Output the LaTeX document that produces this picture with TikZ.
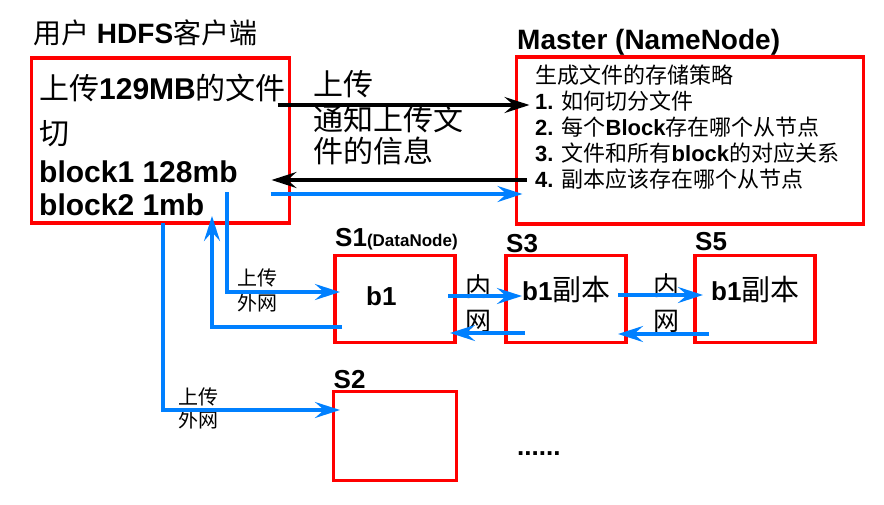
\documentclass[tikz,border=0pt]{standalone}
\usepackage{fontspec}
\setmainfont{Liberation Sans}
\newfontfamily\zh{Noto Sans CJK SC}
\usetikzlibrary{arrows.meta}
\definecolor{netblue}{RGB}{0,128,255}

\begin{document}
\begin{tikzpicture}[x=1pt,y=-1pt]
      \tikzset{
        box/.style={draw=red, line width=3.2pt, rectangle, inner sep=0pt, outer sep=0pt},
        srv/.style={box, minimum width=120pt, minimum height=87pt},
        txt/.style={anchor=base west, inner sep=0pt, font=\fontsize{30}{32}\selectfont},
        lst/.style={anchor=base west, inner sep=0pt, font=\fontsize{22}{24}\selectfont},
        lbl/.style={anchor=base west, inner sep=0pt, font=\bfseries\fontsize{26}{26}\selectfont},
        net/.style={anchor=base west, inner sep=0pt, font=\zh\fontsize{20}{24}\selectfont},
        link/.style={draw=black, line width=3.3pt, -{Stealth[length=25pt,width=16pt,inset=9pt]}},
        blink/.style={link, draw=netblue},
      }
      \useasboundingbox (0,0) rectangle (884,504);
      \node [box, minimum width=258pt, minimum height=165pt] (client) at (160.5,140.5) {};
      \node [box, minimum width=347pt, minimum height=167pt, right of=client, node distance=529.5pt] (master) {};
      \node [srv] (s1) at (395,299) {};
      \node [srv, right of=s1, node distance=171pt] (s3) {};
      \node [srv, right of=s3, node distance=189pt] (s5) {};
      \node [srv, minimum width=123pt, minimum height=89pt, below of=s1, node distance=137pt] (s2) {};

      \node [txt, font=\fontsize{28}{30}\selectfont] (ctitle) at (33,43) {{\zh 用户} \textbf{HDFS}{\zh 客户端}};
      \node [txt] (upl) at (39,99) {{\zh 上传}\textbf{129MB}{\zh 的文件}};
      \node [txt] (cut) at (39,144) {\zh 切};
      \node [txt] (blk1) at (39,182) {\textbf{block1 128mb}};
      \node [txt] (blk2) at (39,215) {\textbf{block2 1mb}};

      \node [txt] (upload) at (313,95) {\zh 上传};
      \node [txt] (info1) at (313,130) {\zh 通知上传文};
      \node [txt] (info2) at (313,162) {\zh 件的信息};

      \node [txt, font=\bfseries\fontsize{28}{30}\selectfont] (mtitle) at (517,49) {Master (NameNode)};
      \node [lst] (m0) at (535,83) {\zh 生成文件的存储策略};
      \node [lst] (m1) at (535,109) {\textbf{1.} {\zh 如何切分文件}};
      \node [lst] (m2) at (535,135) {\textbf{2.} {\zh 每个}\textbf{Block}{\zh 存在哪个从节点}};
      \node [lst] (m3) at (535,161) {\textbf{3.} {\zh 文件和所有}\textbf{block}{\zh 的对应关系}};
      \node [lst] (m4) at (535,187) {\textbf{4.} {\zh 副本应该存在哪个从节点}};

      \node [lbl] (s1name) at ([yshift=9.5pt]s1.north west) {S1{\fontsize{17}{17}\selectfont(DataNode)}};
      \node [lbl] (s3name) at ([yshift=3pt]s3.north west) {S3};
      \node [lbl] (s5name) at ([yshift=5pt]s5.north west) {S5};
      \node [lbl] (s2name) at ([yshift=3.5pt]s2.north west) {S2};

      \node [lbl] (b1) at (366,305) {b1};
      \node [lbl] (b1copy1) at (522,300) {b1{\mdseries\zh\fontsize{29}{30}\selectfont 副本}};
      \node [lbl] (b1copy2) at (711,300) {b1{\mdseries\zh\fontsize{29}{30}\selectfont 副本}};
      \node [lbl] (more) at (517,455) {......};

      \node [net] (wan1a) at (237,285) {上传};
      \node [net] (wan1b) at (237,310) {外网};
      \node [net] (wan2a) at (178,404) {上传};
      \node [net] (wan2b) at (178,427) {外网};
      \node [net, font=\zh\fontsize{26}{28}\selectfont] (lan1a) at (465,296) {内};
      \node [net, font=\zh\fontsize{26}{28}\selectfont] (lan1b) at (465,330) {网};
      \node [net, font=\zh\fontsize{26}{28}\selectfont] (lan2a) at (653,295) {内};
      \node [net, font=\zh\fontsize{26}{28}\selectfont] (lan2b) at (653,330) {网};

      \path [link] ([xshift=-12pt,yshift=35.5pt]client.east) -- ([xshift=13pt,yshift=35.5pt]master.west);
      \path [link] ([xshift=10pt,yshift=-39.5pt]master.west) -- ([xshift=-18pt,yshift=-39.5pt]client.east);
      \path [blink] ([xshift=-19pt,yshift=-53.5pt]client.east) -- ([xshift=6pt,yshift=-53.5pt]master.west);

      \path [blink] ([xshift=66.5pt,yshift=31pt]client.south) |- ([xshift=5pt,yshift=7pt]s1.west);
      \path [blink] ([xshift=7pt,yshift=-28pt]s1.west) -| ([xshift=51.5pt,yshift=7pt]client.south);
      \path [blink] ([xshift=2.5pt]client.south) |- ([xshift=6.5pt,yshift=26pt]s2.west);

      \path [blink] ([xshift=-7pt,yshift=3pt]s1.east) -- ([xshift=16pt,yshift=3pt]s3.west);
      \path [blink] ([xshift=19pt,yshift=-34pt]s3.west) -- ([xshift=-5pt,yshift=-34pt]s1.east);
      \path [blink] ([xshift=-8pt,yshift=4pt]s3.east) -- ([xshift=8pt,yshift=4pt]s5.west);
      \path [blink] ([xshift=14pt,yshift=-35pt]s5.west) -- ([xshift=-8pt,yshift=-35pt]s3.east);
\end{tikzpicture}
\end{document}
